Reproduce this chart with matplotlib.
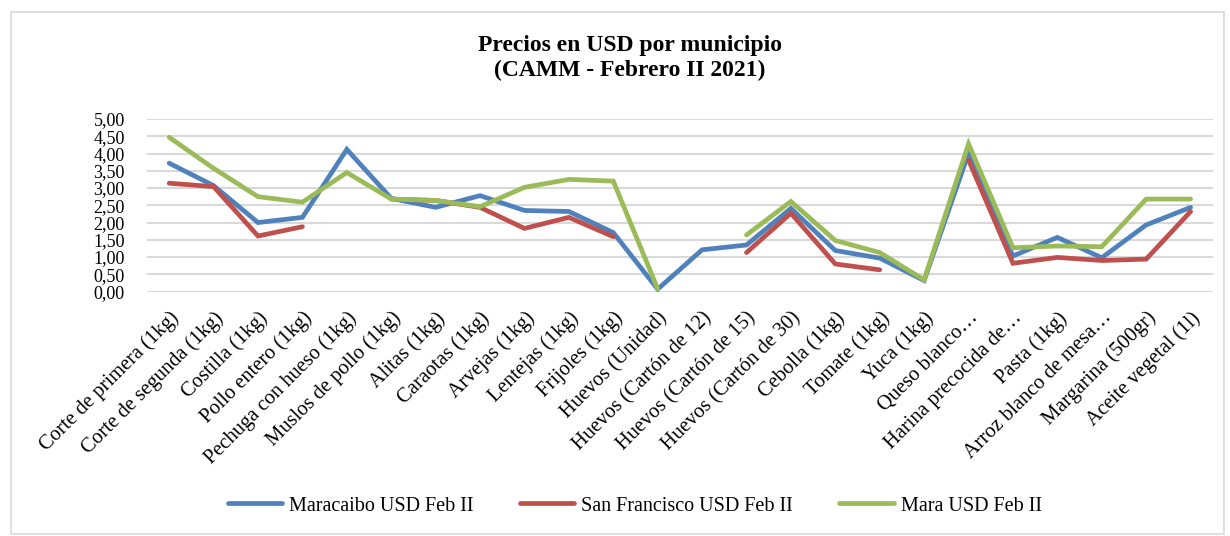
import numpy as np
import matplotlib
matplotlib.use("Agg")
from matplotlib import pyplot as plt
from matplotlib.patches import Rectangle

plt.rcParams['font.family'] = ['Liberation Serif', 'DejaVu Serif']

productos = [
    "Corte de primera (1kg)", "Corte de segunda (1kg)", "Costilla (1kg)",
    "Pollo entero (1kg)", "Pechuga con hueso (1kg)", "Muslos de pollo (1kg)",
    "Alitas (1kg)", "Caraotas (1kg)", "Arvejas (1kg)", "Lentejas (1kg)",
    "Frijoles (1kg)", "Huevos (Unidad)", "Huevos (Cartón de 12)",
    "Huevos (Cartón de 15)", "Huevos (Cartón de 30)", "Cebolla (1kg)",
    "Tomate (1kg)", "Yuca (1kg)", "Queso blanco…", "Harina precocida de…",
    "Pasta (1kg)", "Arroz blanco de mesa…", "Margarina (500gr)",
    "Aceite vegetal (1l)",
]

nan = np.nan
maracaibo = [3.72, 3.07, 2.00, 2.15, 4.12, 2.70, 2.44, 2.78, 2.35, 2.32,
             1.71, 0.07, 1.21, 1.35, 2.41, 1.19, 0.97, 0.32, 4.01, 1.03,
             1.57, 0.98, 1.93, 2.44]
san_francisco = [3.14, 3.04, 1.61, 1.88, nan, 2.68, 2.64, 2.44, 1.83, 2.15,
                 1.59, nan, nan, 1.13, 2.27, 0.80, 0.63, nan, 3.81, 0.82,
                 0.99, 0.90, 0.94, 2.32]
mara = [4.47, 3.57, 2.75, 2.59, 3.45, 2.68, 2.64, 2.46, 3.02, 3.25,
        3.20, 0.08, nan, 1.64, 2.61, 1.48, 1.13, 0.34, 4.28, 1.27,
        1.32, 1.30, 2.68, 2.68]

series = [
    ("Maracaibo USD Feb II", maracaibo, "#4F81BD"),
    ("San Francisco USD Feb II", san_francisco, "#C0504D"),
    ("Mara USD Feb II", mara, "#9BBB59"),
]

fig = plt.figure(figsize=(12.3, 5.36), dpi=100)
ax = fig.add_axes([0.1195, 0.456, 0.8665, 0.322])

x = np.arange(len(productos))
for nombre, valores, color in series:
    ax.plot(x, valores, color=color, lw=3.4, label=nombre,
            solid_capstyle='round', solid_joinstyle='miter')

ax.set_xlim(-0.5, len(productos) - 0.5)
ax.set_ylim(0, 5)
yt = np.arange(0, 5.01, 0.5)
ax.set_yticks(yt)
ax.set_yticklabels([f"{v:.2f}".replace(".", ",") for v in yt], fontsize=13)
ax.set_xticks(x)
ax.set_xticklabels(productos, rotation=45, ha='right', rotation_mode='anchor',
                   fontsize=14.8)
ax.tick_params(axis='both', length=0)
ax.tick_params(axis='y', pad=16)
ax.tick_params(axis='x', pad=12)
for s in ax.spines.values():
    s.set_visible(False)
ax.grid(axis='y', color='#d9d9d9', lw=1.5)
ax.set_axisbelow(True)

fig.text(0.512, 0.916, "Precios en USD por municipio", ha='center', va='center',
         fontsize=17, fontweight='bold')
fig.text(0.512, 0.868, "(CAMM - Febrero II 2021)", ha='center', va='center',
         fontsize=17, fontweight='bold')

fig.legend(loc='center', bbox_to_anchor=(0.516, 0.056), ncol=3, frameon=False,
           fontsize=14.5, handlelength=2.7, handletextpad=0.35, columnspacing=2.3)

fig.patches.append(Rectangle((0.009, 0.004), 0.986, 0.973, transform=fig.transFigure,
                             fill=False, edgecolor='#d9d9d9', lw=1.2))

fig.savefig("out.png", dpi=100)
